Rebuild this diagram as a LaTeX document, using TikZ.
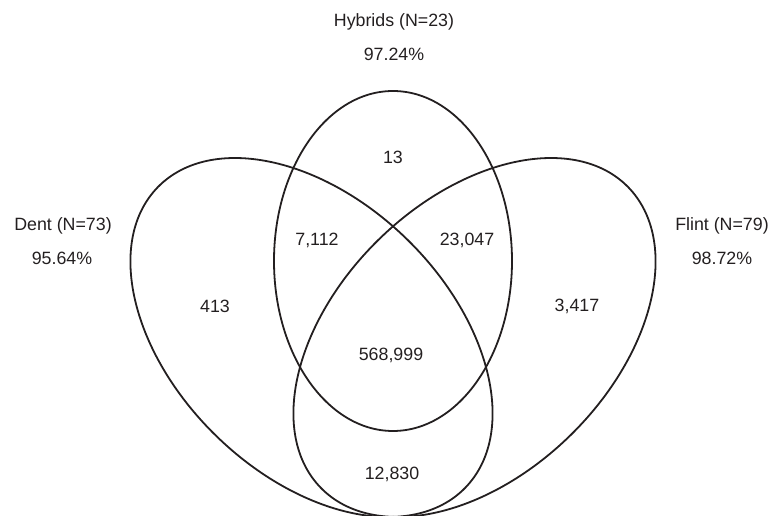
\documentclass[tikz,border=0pt]{standalone}
\usepackage{fontspec}
\setmainfont{Liberation Sans}
\definecolor{ink}{RGB}{35,31,32}

\begin{document}
\begin{tikzpicture}[x=1pt, y=1pt, line width=1.8pt, draw=ink,
    lab/.style={text=ink, font=\fontsize{17.8}{21}\selectfont, inner sep=0pt}]
    \useasboundingbox (0,0) rectangle (772,516);

    \coordinate (hyb) at (393, 255);
    \coordinate (dent) at (311.5, 178.5);
    \coordinate (flint) at (474.5, 178.5);

    \draw (hyb) ellipse [x radius=119pt, y radius=170pt];
    \draw[rotate around={-44.4:(dent)}] (dent) ellipse [x radius=215pt, y radius=137pt];
    \draw[rotate around={44.4:(flint)}] (flint) ellipse [x radius=215pt, y radius=137pt];

    \node[lab] (hybname) at (394, 494) {Hybrids (N=23)};
    \node[lab] (hybpct) at (394, 462) {97.24\%};
    \node[lab] (dentname) at (63, 290) {Dent (N=73)};
    \node[lab] (dentpct) at (62, 258) {95.64\%};
    \node[lab] (flintname) at (722, 290) {Flint (N=79)};
    \node[lab] (flintpct) at (722, 258) {98.72\%};

    \node[lab] (h) at (393, 359) {13};
    \node[lab] (dh) at (317, 276) {7,112};
    \node[lab] (hf) at (467, 276) {23,047};
    \node[lab] (d) at (215, 210) {413};
    \node[lab] (f) at (577, 210) {3,417};
    \node[lab] (dhf) at (391, 161) {568,999};
    \node[lab] (df) at (392, 42) {12,830};
\end{tikzpicture}
\end{document}
